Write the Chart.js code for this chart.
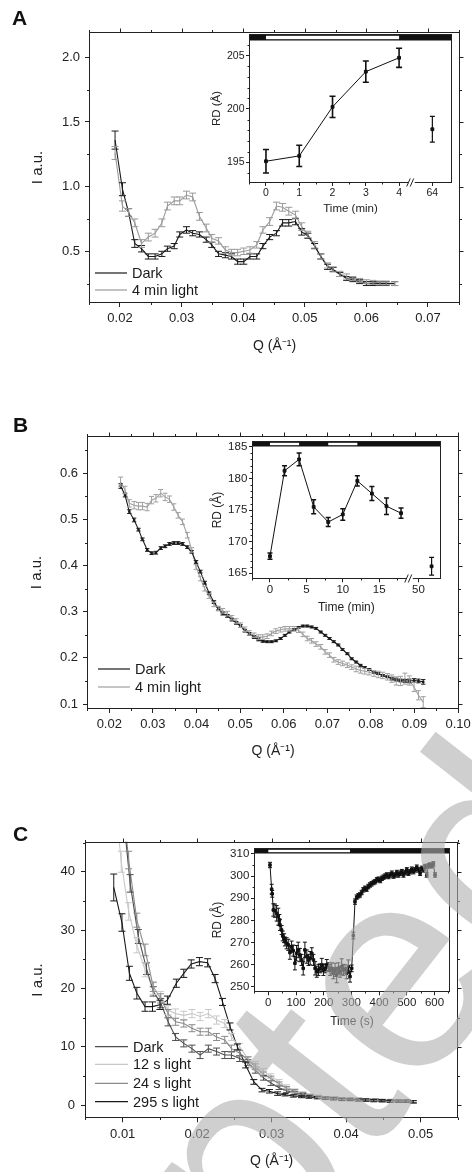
<!DOCTYPE html>
<html><head><meta charset="utf-8">
<script src="https://cdn.jsdelivr.net/npm/chart.js@4.4.1/dist/chart.umd.min.js"></script>
<style>
html,body{margin:0;padding:0;background:#fff;width:472px;height:1172px;overflow:hidden;}
#wrap{position:relative;width:472px;height:1172px;overflow:hidden;font-family:"Liberation Sans",Arial,sans-serif;}
canvas{position:absolute;}
.lab{position:absolute;font-weight:bold;font-size:21px;line-height:1;color:#111;}
#wm{position:absolute;left:-325px;top:1647px;transform-origin:0 0;transform:rotate(-52deg);font:290px/1 "Liberation Sans",Arial,sans-serif;color:rgba(175,175,175,0.6);white-space:nowrap;pointer-events:none;}
</style></head><body>
<div id="wrap">
<canvas id="cA" width="472" height="360" style="left:0;top:0;width:472px;height:360px"></canvas>
<canvas id="iA" width="262" height="200" style="left:200px;top:20px;width:262px;height:200px"></canvas>
<canvas id="cB" width="472" height="385" style="left:0;top:380px;width:472px;height:385px"></canvas>
<canvas id="iB" width="262" height="200" style="left:200px;top:420px;width:262px;height:200px"></canvas>
<canvas id="cC" width="472" height="385" style="left:0;top:790px;width:472px;height:385px"></canvas>
<canvas id="iC" width="262" height="200" style="left:200px;top:830px;width:262px;height:200px"></canvas>
<div class="lab" style="left:12px;top:7px">A</div>
<div class="lab" style="left:13px;top:414px">B</div>
<div class="lab" style="left:13px;top:823px">C</div>
<div id="wm">Accepted Manuscript</div>
</div>
<script>
// ---------------- DATA ----------------
// Panel A main
const qA = [0.0192,0.0204,0.0214,0.0224,0.0235,0.0246,0.0257,0.0268,0.0277,0.0288,0.0297,0.0308,0.0318,0.0329,0.0340,0.0349,0.0360,0.0371,0.0381,0.0391,0.0401,0.0411,0.0422,0.0432,0.0443,0.0454,0.0464,0.0474,0.0485,0.0495,0.0505,0.0516,0.0526,0.0537,0.0546,0.0557,0.0568,0.0578,0.0589,0.0600,0.0611,0.0622,0.0632,0.0646];
const darkA = [1.36,0.98,0.80,0.56,0.52,0.46,0.46,0.48,0.52,0.54,0.63,0.665,0.64,0.63,0.59,0.55,0.48,0.47,0.46,0.42,0.42,0.46,0.46,0.54,0.61,0.64,0.72,0.72,0.73,0.65,0.62,0.54,0.46,0.38,0.36,0.32,0.29,0.28,0.265,0.25,0.25,0.25,0.25,0.25];
const errDarkA = [0.07,0.05,0.03,0.03,0.025,0.02,0.02,0.02,0.02,0.02,0.02,0.025,0.02,0.02,0.02,0.02,0.02,0.02,0.02,0.02,0.02,0.02,0.02,0.02,0.02,0.02,0.025,0.025,0.025,0.025,0.02,0.02,0.02,0.02,0.015,0.015,0.015,0.015,0.015,0.015,0.015,0.015,0.015,0.015];
const lightA = [1.26,0.85,0.80,0.72,0.56,0.61,0.64,0.72,0.85,0.89,0.89,0.935,0.92,0.77,0.68,0.60,0.58,0.51,0.49,0.49,0.50,0.51,0.55,0.665,0.73,0.85,0.84,0.81,0.78,0.69,0.63,0.55,0.46,0.39,0.36,0.325,0.305,0.29,0.275,0.265,0.26,0.255,0.255,0.25];
const errLightA = [0.05,0.04,0.03,0.03,0.03,0.03,0.03,0.03,0.03,0.03,0.03,0.03,0.03,0.03,0.03,0.03,0.025,0.025,0.025,0.025,0.025,0.025,0.025,0.025,0.03,0.03,0.03,0.03,0.03,0.03,0.025,0.025,0.02,0.02,0.02,0.02,0.02,0.015,0.015,0.015,0.015,0.015,0.015,0.015];
const ticksAX = ['0.02','0.03','0.04','0.05','0.06','0.07'];
const ticksAY = ['0.5','1.0','1.5','2.0'];
// Panel A inset
const timeA = [0,1,2,3,4];
const rdA = [195.1,195.6,200.2,203.5,204.8];
const errRdA = [1.1,1.0,1.0,1.0,0.9];
const lateTimeA = [64];
const lateRdA = [198.1];
const lateErrA = [1.2];
const ticksIAX = [0,1,2,3,4,64];
const ticksIAY = [195,200,205];
const lightIntervalsA = [[0,4]];

// Panel B main
const qB = [0.0226,0.0236,0.0246,0.0257,0.0267,0.0276,0.0287,0.0297,0.0307,0.0318,0.0328,0.0338,0.0348,0.0358,0.0368,0.0379,0.0389,0.0399,0.0409,0.0419,0.0429,0.0440,0.0450,0.0460,0.0471,0.0481,0.0491,0.0501,0.0511,0.0521,0.0532,0.0542,0.0552,0.0562,0.0572,0.0582,0.0593,0.0603,0.0613,0.0624,0.0634,0.0644,0.0654,0.0664,0.0674,0.0685,0.0695,0.0705,0.0715,0.0725,0.0735,0.0746,0.0756,0.0766,0.0776,0.0786,0.0796,0.0807,0.0817,0.0827,0.0838,0.0848,0.0858,0.0868,0.0878,0.0888,0.0899,0.0909,0.0920];
const darkB = [0.5725,0.553,0.517,0.499,0.478,0.457,0.434,0.427,0.428,0.438,0.442,0.447,0.449,0.449,0.447,0.440,0.430,0.408,0.387,0.363,0.340,0.321,0.307,0.296,0.291,0.283,0.276,0.269,0.259,0.252,0.245,0.240,0.236,0.235,0.235,0.237,0.242,0.249,0.256,0.261,0.266,0.269,0.269,0.267,0.264,0.256,0.249,0.242,0.235,0.228,0.218,0.209,0.198,0.191,0.184,0.179,0.175,0.169,0.166,0.162,0.159,0.155,0.153,0.151,0.150,0.150,0.151,0.150,0.148];
const errDarkB = [0.005,0.004,0.004,0.004,0.003,0.003,0.003,0.003,0.003,0.003,0.003,0.003,0.003,0.003,0.003,0.003,0.003,0.003,0.003,0.003,0.003,0.003,0.003,0.003,0.003,0.003,0.003,0.003,0.003,0.003,0.003,0.003,0.002,0.002,0.002,0.002,0.002,0.002,0.002,0.002,0.002,0.002,0.002,0.002,0.002,0.002,0.002,0.002,0.002,0.002,0.002,0.002,0.002,0.002,0.002,0.002,0.002,0.002,0.002,0.002,0.002,0.003,0.003,0.003,0.003,0.004,0.004,0.004,0.005];
const lightB = [0.582,0.564,0.535,0.531,0.529,0.529,0.527,0.542,0.546,0.557,0.549,0.544,0.527,0.509,0.495,0.466,0.434,0.397,0.372,0.350,0.334,0.316,0.307,0.302,0.296,0.287,0.280,0.271,0.262,0.254,0.249,0.245,0.245,0.247,0.253,0.258,0.261,0.263,0.263,0.263,0.260,0.251,0.242,0.237,0.230,0.224,0.213,0.206,0.196,0.191,0.188,0.184,0.180,0.176,0.173,0.171,0.169,0.166,0.164,0.162,0.159,0.155,0.150,0.150,0.155,0.151,0.137,0.119,0.104];
const errLightB = [0.010,0.008,0.008,0.008,0.008,0.008,0.008,0.008,0.008,0.008,0.008,0.007,0.007,0.006,0.006,0.006,0.005,0.005,0.005,0.005,0.005,0.005,0.005,0.005,0.005,0.005,0.005,0.005,0.005,0.005,0.005,0.005,0.005,0.005,0.005,0.005,0.005,0.005,0.005,0.005,0.005,0.005,0.005,0.005,0.005,0.005,0.005,0.005,0.005,0.005,0.005,0.005,0.005,0.006,0.006,0.006,0.006,0.006,0.007,0.007,0.007,0.008,0.009,0.010,0.012,0.010,0.010,0.010,0.012];
const ticksBX = ['0.02','0.03','0.04','0.05','0.06','0.07','0.08','0.09','0.10'];
const ticksBY = ['0.1','0.2','0.3','0.4','0.5','0.6'];
// Panel B inset
const timeB = [0,2,4,6,8,10,12,14,16,18];
const rdB = [167.7,181.2,183.0,175.5,173.1,174.3,179.6,177.6,175.6,174.5];
const errRdB = [0.5,0.8,1.0,1.1,0.7,0.9,0.8,1.1,1.3,0.8];
const lateTimeB = [54];
const lateRdB = [166.1];
const lateErrB = [1.4];
const ticksIBX = [0,5,10,15,50];
const ticksIBY = [165,170,175,180,185];
const lightIntervalsB = [[0,4],[8,12]];

// Panel C main
const qCdark = [0.0099,0.0110,0.0121,0.0132,0.0141,0.0151,0.0161,0.0171,0.0182,0.0193,0.0204,0.0215,0.0226,0.0237,0.0246,0.0257,0.0268,0.0278,0.0289,0.0299,0.0310,0.0320,0.0331,0.0342,0.0352,0.0363,0.0374,0.0385,0.0395,0.0406,0.0417,0.0428,0.0439,0.0449,0.0460,0.0471,0.0482,0.0490];
const darkC = [52,38.0,28.9,23.4,19.5,17.5,14.3,11.7,10.6,9.7,8.6,9.7,9.2,8.6,8.6,8.0,7.3,6.0,4.7,3.8,3.0,2.5,2.1,1.8,1.6,1.4,1.3,1.2,1.1,1.0,1.0,0.9,0.9,0.8,0.8,0.7,0.7,0.6];
const errDarkC = [1.5,1.5,1.2,1.0,0.8,0.8,0.7,0.6,0.6,0.6,0.6,0.6,0.6,0.6,0.6,0.5,0.5,0.5,0.4,0.4,0.3,0.3,0.3,0.2,0.2,0.2,0.2,0.2,0.2,0.2,0.2,0.2,0.2,0.2,0.2,0.2,0.2,0.2];
const qC12 = [0.0088,0.0098,0.0108,0.0119,0.0130,0.0141,0.0151,0.0161,0.0171,0.0182,0.0193,0.0204,0.0215,0.0226,0.0237,0.0246,0.0257,0.0269,0.0278,0.0289,0.0299,0.0310,0.0320,0.0331,0.0342,0.0352,0.0363,0.0374,0.0385,0.0395,0.0406,0.0417,0.0428,0.0439,0.0449,0.0460,0.0471,0.0482,0.0490];
const s12C = [55,41.7,33.2,27.4,23.2,20.0,18.6,16.3,15.7,15.4,15.7,15.2,15.7,14.6,14.0,11.7,10.0,7.8,7.0,5.8,5.0,4.0,3.2,2.5,2.0,1.7,1.5,1.3,1.2,1.1,1.0,1.0,0.9,0.9,0.8,0.8,0.7,0.7,0.6];
const err12C = [2.0,1.8,1.5,1.3,1.2,1.0,0.9,0.8,0.8,0.7,0.7,0.7,0.7,0.7,0.7,0.6,0.6,0.5,0.5,0.5,0.4,0.4,0.3,0.3,0.3,0.2,0.2,0.2,0.2,0.2,0.2,0.2,0.2,0.2,0.2,0.2,0.2,0.2,0.2];
const qC24 = [0.0098,0.0108,0.0119,0.0130,0.0141,0.0151,0.0161,0.0171,0.0182,0.0193,0.0204,0.0215,0.0226,0.0237,0.0246,0.0257,0.0268,0.0278,0.0289,0.0299,0.0310,0.0320,0.0331,0.0342,0.0352,0.0363,0.0374,0.0385,0.0395,0.0406,0.0417,0.0428,0.0439,0.0449,0.0460,0.0471,0.0482,0.0490];
const s24C = [55,42.0,31.7,26.6,20.3,18.3,15.7,14.3,14.0,13.2,12.6,12.6,11.7,11.2,9.7,8.9,7.8,6.6,5.3,4.6,3.7,2.9,2.4,2.0,1.7,1.5,1.3,1.2,1.1,1.0,1.0,0.9,0.9,0.8,0.8,0.7,0.7,0.6];
const err24C = [1.5,1.5,1.2,1.0,0.8,0.8,0.7,0.6,0.6,0.6,0.6,0.6,0.6,0.6,0.6,0.5,0.5,0.5,0.4,0.4,0.3,0.3,0.3,0.2,0.2,0.2,0.2,0.2,0.2,0.2,0.2,0.2,0.2,0.2,0.2,0.2,0.2,0.2];
const qC295 = [0.0088,0.0099,0.0109,0.0119,0.0130,0.0140,0.0150,0.0160,0.0172,0.0182,0.0192,0.0203,0.0214,0.0224,0.0234,0.0244,0.0254,0.0265,0.0276,0.0287,0.0297,0.0308,0.0318,0.0329,0.0340,0.0350,0.0361,0.0372,0.0383,0.0394,0.0405,0.0416,0.0426,0.0437,0.0448,0.0459,0.0470,0.0480,0.0490];
const s295C = [37.3,31.3,22.6,19.2,16.9,16.9,17.2,18.0,20.9,22.6,24.2,24.6,24.4,21.7,17.7,13.5,10.0,6.9,4.0,2.6,2.4,2.0,1.8,1.6,1.5,1.4,1.3,1.2,1.1,1.0,1.0,0.9,0.9,0.8,0.8,0.7,0.7,0.7,0.6];
const err295C = [2.3,1.5,1.2,1.0,0.8,0.8,0.8,0.7,0.7,0.7,0.7,0.7,0.7,0.7,0.6,0.6,0.5,0.5,0.4,0.3,0.3,0.3,0.2,0.2,0.2,0.2,0.2,0.2,0.2,0.2,0.2,0.2,0.2,0.2,0.2,0.2,0.2,0.2,0.2];
const ticksCX = ['0.01','0.02','0.03','0.04','0.05'];
const ticksCY = ['0','10','20','30','40'];
// Panel C inset
const timeC = [6,12,14,18,24,30,36,40,42,48,52,57,60,66,72,78,84,90,96,102,108,114,120,126,132,139,145,151,157,163,169,175,181,187,193,199,205,211,217,223,229,235,241,247,253,259,265,271,277,283,289,295,301,307,313,319,325,331,337,343,349,355,361,367,373,380,386,392,398,404,410,416,422,428,434,440,446,452,458,464,470,476,482,488,494,500,506,512,518,524,530,536,542,548,554,560,566,572,578,584,590,596,602];
const rdC = [305.0,294.1,292.0,284.7,284.4,283.2,281.7,280.2,278.0,275.7,273.0,272.0,270.5,269.7,269.0,265.5,268.2,266.4,260.7,265.2,266.7,264.4,262.2,258.4,266.7,263.7,262.2,263.0,265.2,262.2,258.4,256.9,257.7,258.4,259.9,257.7,258.4,259.9,258.9,257.7,258.4,256.2,257.7,255.4,258.4,256.9,259.2,257.7,258.0,256.2,259.2,254.7,258.4,273.2,288.5,290.5,291.1,291.5,292.6,293.8,294.5,294.1,295.3,296.0,296.5,297.1,297.5,298.3,298.6,298.0,299.0,299.5,300.0,300.5,299.8,300.5,301.3,300.0,300.5,301.6,300.5,301.3,302.0,300.5,301.6,302.8,301.3,302.0,303.1,302.0,302.8,304.0,302.8,301.3,303.5,302.8,304.3,300.5,304.6,305.0,304.6,305.5,300.5];
const errRdC = [1.2,2.2,1.5,2.8,3.0,3.5,3.8,2.5,2.5,2.0,2.2,2.0,2.0,2.5,2.5,3.0,2.5,2.5,3.0,3.5,3.5,3.0,2.5,3.0,3.5,3.0,2.5,3.0,2.5,2.5,3.0,2.5,2.5,2.0,3.0,2.5,2.0,2.5,2.0,2.5,2.5,2.5,3.0,3.5,2.5,2.5,3.5,2.5,2.0,2.5,3.0,2.5,1.5,1.5,1.2,1.0,1.0,1.0,1.0,1.0,1.0,1.0,1.0,1.0,1.0,1.0,1.0,1.0,1.0,1.0,1.0,1.0,1.0,1.0,1.0,1.0,1.0,1.0,1.0,1.0,1.0,1.0,1.0,1.0,1.0,1.0,1.0,1.0,1.0,1.0,1.0,1.0,1.0,1.0,1.0,1.0,1.0,1.0,1.0,1.0,1.0,1.0,1.0];
const ticksICX = [0,100,200,300,400,500,600];
const ticksICY = [250,260,270,280,290,300,310];
const lightIntervalsC = [[0,295]];

// ---------------- RENDERING ----------------
const FONT = '"Liberation Sans", Arial, sans-serif';
Chart.defaults.font.family = FONT;
Chart.defaults.color = '#222';
const INK = '#222';

// broken axes: time -> axis position
const posA = t => t <= 4 ? t : 5 + (t - 64) * 0.02;
const posB = t => t <= 18 ? t : 20.4 + (t - 50) * 0.45;
const posC = t => t;

function pts(xs, ys, f) { return xs.map((x, i) => ({x: f ? f(x) : x, y: ys[i]})); }

function genMinor(a, b, step, majors) {
  const out = [];
  const k0 = Math.ceil(a / step - 1e-6), k1 = Math.floor(b / step + 1e-6);
  for (let k = k0; k <= k1; k++) {
    const v = k * step;
    if (!majors.some(m => Math.abs(m - v) < step * 1e-3)) out.push(v);
  }
  return out;
}

const decor = {
  id: 'decor',
  beforeDraw(chart, args, o) {
    if (!o || !o.fill) return;
    const {ctx, chartArea: a} = chart;
    ctx.save(); ctx.fillStyle = '#fff';
    ctx.fillRect(a.left, a.top, a.right - a.left, a.bottom - a.top);
    ctx.restore();
  },
  afterDatasetsDraw(chart) {
    const {ctx, chartArea: a} = chart;
    const xs = chart.scales.x, ys = chart.scales.y;
    ctx.save();
    ctx.beginPath(); ctx.rect(a.left, a.top, a.right - a.left, a.bottom - a.top); ctx.clip();
    chart.data.datasets.forEach(ds => {
      if (!ds.err) return;
      ctx.strokeStyle = ds.borderColor; ctx.lineWidth = ds.errLW || 1;
      const cw = ds.capW || 3;
      ds.data.forEach((p, j) => {
        const e = ds.err[j]; if (e == null) return;
        const px = xs.getPixelForValue(p.x);
        const y1 = ys.getPixelForValue(p.y - e), y2 = ys.getPixelForValue(p.y + e);
        ctx.beginPath();
        ctx.moveTo(px, y1); ctx.lineTo(px, y2);
        ctx.moveTo(px - cw, y1); ctx.lineTo(px + cw, y1);
        ctx.moveTo(px - cw, y2); ctx.lineTo(px + cw, y2);
        ctx.stroke();
      });
    });
    ctx.restore();
  },
  afterDraw(chart, args, o) {
    if (!o || !o.frame) return;
    const {ctx, chartArea: a} = chart;
    const xs = chart.scales.x, ys = chart.scales.y;
    const L = Math.round(a.left) + 0.5, R = Math.round(a.right) - 0.5, T = Math.round(a.top) + 0.5, B = Math.round(a.bottom) - 0.5;
    ctx.save();
    ctx.strokeStyle = INK; ctx.lineWidth = 1;
    const seg = (x1, y1, x2, y2) => { ctx.beginPath(); ctx.moveTo(x1, y1); ctx.lineTo(x2, y2); ctx.stroke(); };
    if (o.bar) {
      const h = o.bar.h;
      ctx.fillStyle = '#111';
      ctx.fillRect(L, T, R - L, h);
      ctx.fillStyle = '#fff';
      o.bar.segs.forEach(([s, e]) => {
        const x0 = xs.getPixelForValue(o.bar.pos(s)), x1 = xs.getPixelForValue(o.bar.pos(e));
        ctx.fillRect(x0, T + 1.3, x1 - x0, h - 2.6);
      });
    }
    ctx.strokeRect(L, T, R - L, B - T);
    const mj = o.major, mn = o.minor;
    const xMaj = xs.ticks.map(t => t.value), yMaj = ys.ticks.map(t => t.value);
    const xMin = o.minorX ? genMinor(o.minorX[0], o.minorX[1], o.minorX[2], xMaj) : [];
    const yMin = o.minorY ? genMinor(o.minorY[0], o.minorY[1], o.minorY[2], yMaj) : [];
    xMin.forEach(v => { const p = Math.round(xs.getPixelForValue(v)) + 0.5; seg(p, B, p, B + mn); if (o.outer) seg(p, T, p, T - mn); });
    yMin.forEach(v => { const p = Math.round(ys.getPixelForValue(v)) + 0.5; seg(L, p, L - mn, p); if (o.outer) seg(R, p, R + mn, p); });
    if (o.outer) {
      xMaj.forEach(v => { const p = Math.round(xs.getPixelForValue(v)) + 0.5; seg(p, T, p, T - mj); });
      yMaj.forEach(v => { const p = Math.round(ys.getPixelForValue(v)) + 0.5; seg(R, p, R + mj, p); });
    }
    if (o.breakAt != null) {
      const p = xs.getPixelForValue(o.breakAt);
      ctx.fillStyle = '#fff';
      ctx.fillRect(p - 3, B - 1.5, 6, 3);
      ctx.lineWidth = 1;
      seg(p - 5, B + 4, p - 1.5, B - 4);
      seg(p - 1.5, B + 4, p + 2, B - 4);
    }
    if (o.legend) {
      const lg = o.legend;
      ctx.font = lg.size + 'px ' + FONT;
      ctx.textBaseline = 'middle'; ctx.textAlign = 'left';
      chart.data.datasets.forEach((ds, i) => {
        const y = lg.ys[i];
        ctx.strokeStyle = ds.borderColor; ctx.lineWidth = 1.2;
        seg(lg.x0, y, lg.x1, y);
        ctx.fillStyle = '#1a1a1a';
        ctx.fillText(ds.label, lg.tx, y + 1);
      });
    }
    ctx.restore();
  }
};
Chart.register(decor);

function labelCb(vals, labels) {
  return function (v) { const i = vals.findIndex(t => Math.abs(t - v) < 1e-9); return i >= 0 ? labels[i] : ''; };
}

function makeChart(id, c) {
  const xVals = c.xVals, yVals = c.yVals;
  return new Chart(document.getElementById(id), {
    type: 'scatter',
    data: {datasets: c.datasets},
    options: {
      responsive: false, animation: false, devicePixelRatio: 1,
      layout: {padding: {left: 0, right: c.padR, top: c.padT, bottom: 0}},
      plugins: {legend: {display: false}, tooltip: {enabled: false}, decor: c.decor},
      scales: {
        x: {
          type: 'linear', min: c.xMin, max: c.xMax,
          afterBuildTicks: s => { s.ticks = xVals.map(v => ({value: v})); },
          afterFit: s => { s.height = c.xH; s.paddingLeft = 0; s.paddingRight = 0; },
          ticks: {callback: labelCb(xVals, c.xLabels), font: {size: c.tickSize}, color: INK, padding: c.xPad, maxRotation: 0, autoSkip: false},
          grid: {drawOnChartArea: false, tickLength: c.tickLen, color: INK},
          border: {display: false},
          title: {display: true, text: c.xTitle, font: {size: c.xTitleSize}, color: INK, padding: {top: 0, bottom: c.xTitlePad}}
        },
        y: {
          type: 'linear', min: c.yMin, max: c.yMax,
          afterBuildTicks: s => { s.ticks = yVals.map(v => ({value: v})); },
          afterFit: s => { s.width = c.yW; s.paddingTop = 0; s.paddingBottom = 0; },
          ticks: {callback: labelCb(yVals, c.yLabels), font: {size: c.tickSize}, color: INK, padding: c.yPad, autoSkip: false},
          grid: {drawOnChartArea: false, tickLength: c.tickLen, color: INK},
          border: {display: false},
          title: {display: true, text: c.yTitle, font: {size: c.yTitleSize}, color: INK, padding: {top: c.yTitlePad, bottom: 0}}
        }
      }
    }
  });
}

const Q_TITLE = 'Q (\u00C5\u207B\u00B9)';
function line(label, xs, ys, err, color, extra) {
  return Object.assign({label, data: pts(xs, ys), err, borderColor: color, backgroundColor: color,
    showLine: true, borderWidth: 1.1, pointRadius: 0, capW: 3, errLW: 1}, extra || {});
}

makeChart('cA', {
  datasets: [
    line('Dark', qA, darkA, errDarkA, '#1a1a1a', {capW: 3.5}),
    line('4 min light', qA, lightA, errLightA, '#9a9a9a', {capW: 3.5})
  ],
  xVals: ticksAX.map(Number), xLabels: ticksAX, yVals: ticksAY.map(Number), yLabels: ticksAY,
  xMin: 0.01497, xMax: 0.0752, yMin: 0.100, yMax: 2.196,
  padR: 12, padT: 32, xH: 57, yW: 89, tickSize: 13, tickLen: 4, xPad: 4, yPad: 5,
  xTitle: Q_TITLE, xTitleSize: 14, xTitlePad: 5.6, yTitle: 'I a.u.', yTitleSize: 15, yTitlePad: 29,
  decor: {frame: true, outer: true, major: 4, minor: 2.5, minorX: [0.015, 0.075, 0.005], minorY: [0.25, 2.0, 0.25],
    legend: {x0: 95, x1: 127, tx: 132, ys: [273, 290], size: 14.5}}
});

makeChart('iA', {
  datasets: [
    {label: 'RD', data: pts(timeA, rdA, posA), err: errRdA, borderColor: '#111', backgroundColor: '#111', showLine: true, borderWidth: 1, pointStyle: 'rect', pointRadius: 2, capW: 3, errLW: 1.6},
    {label: 'RD late', data: pts(lateTimeA, lateRdA, posA), err: lateErrA, borderColor: '#111', backgroundColor: '#111', showLine: false, pointStyle: 'rect', pointRadius: 2, capW: 2.5, errLW: 1.2}
  ],
  xVals: ticksIAX.map(posA), xLabels: ticksIAX.map(String), yVals: ticksIAY, yLabels: ticksIAY.map(String),
  xMin: -0.51, xMax: 5.59, yMin: 193.06, yMax: 207.03,
  padR: 10, padT: 14, xH: 37, yW: 49, tickSize: 10.5, tickLen: 3, xPad: 1, yPad: 1.5,
  xTitle: 'Time (min)', xTitleSize: 11.5, xTitlePad: 4.1, yTitle: 'RD (\u00C5)', yTitleSize: 11.5, yTitlePad: 10.1,
  decor: {fill: true, frame: true, outer: false, major: 3, minor: 2, minorX: [-0.5, 4, 0.5], minorY: [194, 206, 1],
    bar: {h: 6, segs: lightIntervalsA, pos: posA}, breakAt: 4.38}
});

makeChart('cB', {
  datasets: [
    line('Dark', qB, darkB, errDarkB, '#1a1a1a', {capW: 2.2, pointRadius: 0.9, pointStyle: 'rect'}),
    line('4 min light', qB, lightB, errLightB, '#a0a0a0', {capW: 2.5})
  ],
  xVals: ticksBX.map(Number), xLabels: ticksBX, yVals: ticksBY.map(Number), yLabels: ticksBY,
  xMin: 0.01489, xMax: 0.1002, yMin: 0.0892, yMax: 0.681,
  padR: 13, padT: 56, xH: 56, yW: 87, tickSize: 13, tickLen: 4, xPad: 4, yPad: 5,
  xTitle: Q_TITLE, xTitleSize: 14, xTitlePad: 5.6, yTitle: 'I a.u.', yTitleSize: 15, yTitlePad: 28,
  decor: {frame: true, outer: true, major: 4, minor: 2.5, minorX: [0.015, 0.1, 0.005], minorY: [0.1, 0.65, 0.05],
    legend: {x0: 98, x1: 130, tx: 135, ys: [289, 307], size: 14.5}}
});

makeChart('iB', {
  datasets: [
    {label: 'RD', data: pts(timeB, rdB, posB), err: errRdB, borderColor: '#111', backgroundColor: '#111', showLine: true, borderWidth: 1, pointStyle: 'rect', pointRadius: 2, capW: 2.5, errLW: 1.5},
    {label: 'RD late', data: pts(lateTimeB, lateRdB, posB), err: lateErrB, borderColor: '#111', backgroundColor: '#111', showLine: false, pointStyle: 'rect', pointRadius: 2, capW: 2.5, errLW: 1.2}
  ],
  xVals: ticksIBX.map(posB), xLabels: ticksIBX.map(String), yVals: ticksIBY, yLabels: ticksIBY.map(String),
  xMin: -2.47, xMax: 23.45, yMin: 164.05, yMax: 185.95,
  padR: 21.3, padT: 20.7, xH: 40.7, yW: 52, tickSize: 11.5, tickLen: 3, xPad: 1, yPad: 1.7,
  xTitle: 'Time (min)', xTitleSize: 12, xTitlePad: 5.1, yTitle: 'RD (\u00C5)', yTitleSize: 12, yTitlePad: 10.8,
  decor: {fill: true, frame: true, outer: false, major: 3, minor: 2, minorX: [-2.5, 17.5, 2.5], minorY: [165, 185, 1],
    bar: {h: 5, segs: lightIntervalsB, pos: posB}, breakAt: 19.2}
});

makeChart('cC', {
  datasets: [
    line('Dark', qCdark, darkC, errDarkC, '#4d4d4d', {capW: 3.5}),
    line('12 s light', qC12, s12C, err12C, '#c8c8c8', {capW: 3.5}),
    line('24 s light', qC24, s24C, err24C, '#8a8a8a', {capW: 3.5}),
    line('295 s light', qC295, s295C, err295C, '#1a1a1a', {capW: 3.5})
  ],
  xVals: ticksCX.map(Number), xLabels: ticksCX, yVals: ticksCY.map(Number), yLabels: ticksCY,
  xMin: 0.00494, xMax: 0.05505, yMin: -2.23, yMax: 45.14,
  padR: 13.7, padT: 51.7, xH: 56.7, yW: 85, tickSize: 13, tickLen: 4, xPad: 4, yPad: 6,
  xTitle: Q_TITLE, xTitleSize: 14, xTitlePad: 5.6, yTitle: 'I a.u.', yTitleSize: 15, yTitlePad: 29,
  decor: {frame: true, outer: true, major: 4, minor: 2.5, minorX: [0.005, 0.055, 0.005], minorY: [0, 45, 5],
    legend: {x0: 95, x1: 128, tx: 133, ys: [256.7, 274.3, 293.3, 311.7], size: 14.5}}
});

makeChart('iC', {
  datasets: [
    {label: 'RD', data: pts(timeC, rdC, posC), err: errRdC, borderColor: '#111', backgroundColor: '#111', showLine: true, borderWidth: 1, pointStyle: 'rect', pointRadius: 1.8, capW: 2, errLW: 1}
  ],
  xVals: ticksICX, xLabels: ticksICX.map(String), yVals: ticksICY, yLabels: ticksICY.map(String),
  xMin: -51.7, xMax: 656, yMin: 247.6, yMax: 312.8,
  padR: 12, padT: 17.7, xH: 37.7, yW: 54, tickSize: 11.5, tickLen: 3, xPad: 0.5, yPad: 1.7,
  xTitle: 'Time (s)', xTitleSize: 12, xTitlePad: 1.1, yTitle: 'RD (\u00C5)', yTitleSize: 12, yTitlePad: 10.8,
  decor: {fill: true, frame: true, outer: false, major: 3, minor: 2, minorX: [-50, 650, 50], minorY: [250, 310, 5],
    bar: {h: 5, segs: lightIntervalsC, pos: posC}}
});
</script>
</body></html>
